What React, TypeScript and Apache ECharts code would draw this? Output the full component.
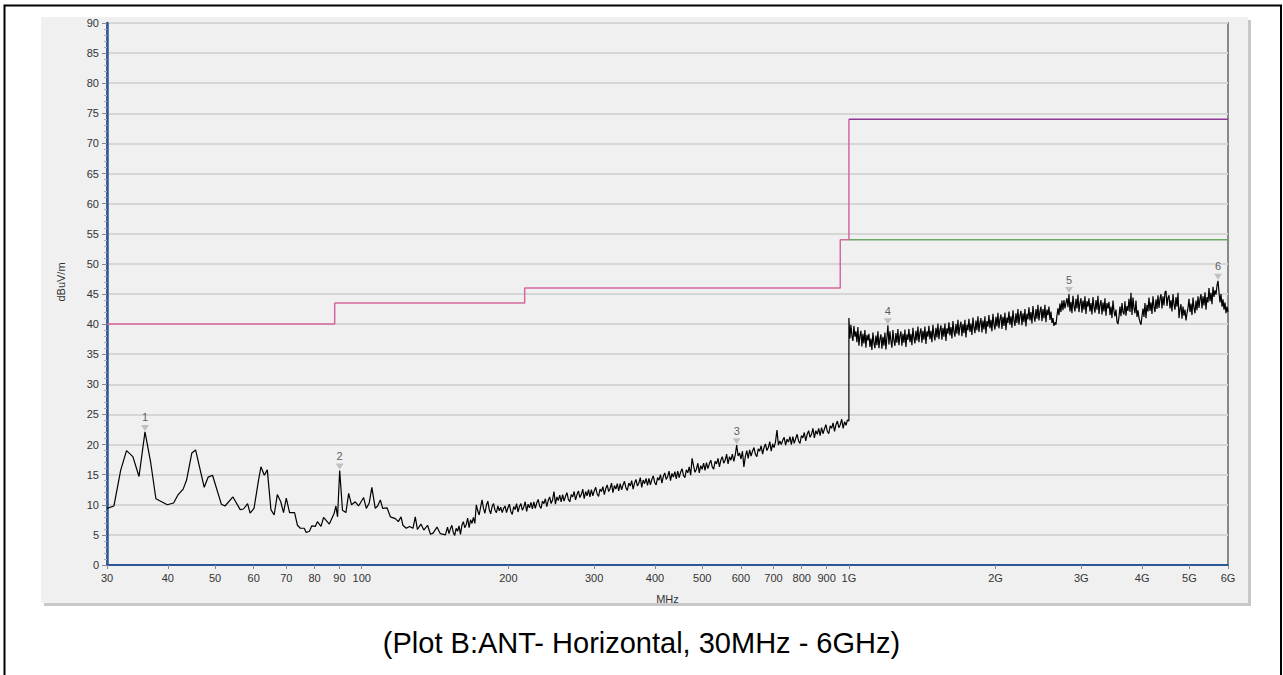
import React, { useEffect, useRef } from "react";
import * as echarts from "echarts";

// ---------- Data ----------
const X_TICKS = [30, 40, 50, 60, 70, 80, 90, 100, 200, 300, 400, 500, 600, 700, 800, 900, 1000, 2000, 3000, 4000, 5000, 6000];
const Y_MIN = 0;
const Y_MAX = 90;
const Y_STEP = 5;

// Limit lines (MHz, dBuV/m)
const LIMIT_QP_FREQ = [30, 88, 88, 216, 216, 960, 960, 1000, 1000];
const LIMIT_QP_LEVEL = [40, 40, 43.5, 43.5, 46, 46, 54, 54, 74];
const LIMIT_PK_FREQ = [1000, 6000];
const LIMIT_PK_LEVEL = [74, 74];
const LIMIT_AV_FREQ = [1000, 6000];
const LIMIT_AV_LEVEL = [54, 54];

// Trace, 30 - 150 MHz (read point by point)
const TRACE_LOW_FREQ = [
  30, 31.0, 32.0, 32.9, 33.9, 34.9, 35.9, 36.9, 37.8, 39.9,
  41.1, 42.0, 43.0, 43.7, 44.8, 45.6, 47.5, 48.4, 49.4, 51.5,
  52.4, 54.4, 56.3, 57.2, 58.3, 59.0, 60.1, 61.4, 62.1, 63.1,
  64.0, 65.1, 66.1, 67.1, 68.2, 69.1, 70.0, 71.1, 72.8, 73.8,
  74.8, 76.2, 76.9, 78.1, 79.0, 80.3, 81.1, 82.5, 83.5, 85.8,
  87.8, 88.5, 89.2, 90.1, 91.3, 92.8, 94.0, 95.3, 97.0, 98.5,
  100.9, 102.2, 103.6, 104.9, 106.6, 107.8, 109.2, 110.4, 112.7, 114.5,
  117.2, 118.9, 120.4, 121.5, 123.4, 125.4, 127.4, 128.8, 130.1, 132.3,
  134.1, 136.5, 138.4, 140.1, 142.7, 145.0, 148.5,
];
const TRACE_LOW_LEVEL = [
  9.4, 9.8, 15.7, 19.0, 18.0, 14.7, 22.1, 16.9, 11.0, 10.0,
  10.3, 11.7, 12.6, 14.1, 18.6, 19.1, 12.9, 14.6, 14.9, 10.1,
  9.8, 11.3, 9.2, 9.3, 10.2, 8.6, 9.4, 14.1, 16.3, 14.9,
  15.8, 9.2, 8.3, 11.7, 10.5, 8.7, 11.1, 8.7, 8.7, 6.6,
  6.1, 6.1, 5.4, 5.6, 6.5, 6.4, 7.2, 6.4, 7.9, 6.8,
  8.6, 9.8, 8.0, 15.7, 9.1, 8.7, 11.9, 10.0, 10.5, 9.8,
  11.2, 9.4, 10.3, 12.9, 9.4, 9.8, 10.8, 9.4, 9.5, 8.0,
  7.7, 7.2, 8.0, 6.6, 6.1, 6.4, 6.1, 8.0, 5.9, 6.8,
  5.8, 6.6, 5.1, 5.3, 6.3, 5.2, 5.0,
];

// Trace, 150 - 1000 MHz sweep (log-spaced sweep points)
const SWEEP_MID_START = 150;
const SWEEP_MID_STOP = 1000;
const TRACE_MID_LEVEL = [
  6.3, 5.2, 6.0, 6.6, 5.4, 4.9, 6.1, 5.6, 6.5, 5.1,
  6.6, 7.2, 6.2, 6.7, 7.8, 6.2, 7.5, 6.9, 7.9, 6.9,
  10.0, 9.0, 8.3, 9.6, 10.8, 9.4, 8.6, 9.9, 10.6, 9.2,
  8.5, 9.7, 10.2, 9.1, 8.7, 9.8, 9.0, 9.6, 8.7, 9.4,
  9.8, 8.7, 9.5, 10.1, 8.9, 8.4, 9.7, 9.2, 10.2, 8.8,
  9.7, 10.2, 9.1, 9.6, 10.5, 8.9, 10.1, 9.5, 10.4, 9.3,
  10.5, 9.4, 10.3, 10.9, 9.8, 9.4, 10.6, 10.2, 11.0, 9.7,
  10.7, 11.3, 10.2, 10.8, 12.2, 10.1, 11.3, 10.7, 11.6, 10.5,
  11.7, 10.6, 11.4, 12.0, 10.9, 10.5, 11.7, 11.3, 12.2, 10.8,
  11.7, 12.3, 11.2, 11.7, 12.6, 11.0, 12.2, 11.5, 12.5, 11.3,
  12.5, 11.5, 12.3, 12.9, 11.8, 11.4, 12.6, 12.2, 13.0, 11.7,
  12.7, 13.3, 12.2, 12.7, 13.6, 12.0, 13.2, 12.6, 13.5, 12.3,
  13.5, 12.5, 13.3, 13.9, 12.8, 12.4, 13.6, 13.1, 14.0, 12.6,
  13.6, 14.2, 13.1, 13.6, 14.5, 12.9, 14.1, 13.5, 14.4, 13.2,
  14.4, 13.3, 14.2, 14.8, 13.7, 13.3, 14.5, 14.1, 15.0, 13.6,
  14.7, 15.3, 14.2, 14.7, 15.6, 14.0, 15.2, 14.6, 15.5, 14.3,
  15.6, 14.5, 15.4, 16.0, 14.9, 14.5, 15.8, 15.3, 16.3, 14.9,
  17.7, 16.5, 15.4, 15.9, 16.9, 15.3, 16.5, 15.9, 16.9, 15.7,
  17.0, 16.0, 16.8, 17.4, 16.3, 15.9, 17.2, 16.8, 17.7, 16.3,
  17.4, 18.0, 16.9, 17.4, 18.4, 16.8, 18.0, 17.4, 18.4, 17.2,
  18.3, 19.9, 18.1, 18.6, 17.6, 18.9, 16.3, 18.0, 19.0, 17.7,
  19.1, 18.1, 18.9, 19.5, 18.4, 18.0, 19.3, 18.9, 19.8, 18.4,
  19.5, 20.1, 19.0, 19.5, 20.5, 18.9, 20.1, 19.5, 20.5, 22.4,
  19.9, 20.6, 20.0, 20.7, 21.2, 19.9, 20.9, 20.4, 21.3, 20.0,
  21.3, 20.2, 21.0, 21.7, 20.6, 20.2, 21.5, 21.1, 22.0, 20.6,
  21.7, 22.3, 21.2, 21.7, 22.7, 21.1, 22.3, 21.7, 22.7, 21.5,
  22.8, 21.8, 22.6, 23.3, 22.2, 21.8, 23.1, 22.7, 23.6, 22.2,
  23.3, 23.9, 22.8, 23.3, 24.2, 22.7, 23.8, 23.2, 24.1, 23.9,
];

// Trace, 1 - 6 GHz sweep (log-spaced sweep points)
const SWEEP_HIGH_START = 1000;
const SWEEP_HIGH_STOP = 6000;
const TRACE_HIGH_LEVEL = [
  41.0, 37.6, 39.9, 38.1, 37.2, 39.7, 37.9, 38.8, 37.0, 39.5,
  36.4, 38.0, 38.9, 36.3, 38.4, 36.8, 39.0, 36.1, 38.2, 37.3,
  38.4, 36.2, 37.6, 35.7, 38.6, 36.9, 36.0, 38.1, 36.5, 38.8,
  36.0, 37.5, 38.3, 35.9, 37.9, 36.4, 38.6, 35.8, 37.8, 39.8,
  36.6, 38.8, 37.2, 36.1, 39.0, 37.3, 36.4, 38.5, 36.9, 39.2,
  36.5, 38.0, 38.8, 36.4, 38.4, 36.9, 39.1, 36.2, 38.3, 37.4,
  39.2, 37.0, 38.4, 36.5, 39.4, 37.7, 36.8, 38.9, 37.3, 39.6,
  37.0, 38.5, 39.3, 36.9, 38.9, 37.4, 39.6, 36.7, 38.8, 37.9,
  39.7, 37.5, 38.9, 37.0, 39.9, 38.2, 37.3, 39.4, 37.8, 40.1,
  37.5, 39.0, 39.8, 37.4, 39.4, 37.9, 40.1, 37.2, 39.3, 38.4,
  40.3, 38.1, 39.5, 37.6, 40.5, 38.8, 37.9, 40.0, 38.4, 40.7,
  38.1, 39.6, 40.4, 38.0, 40.0, 38.5, 40.7, 37.8, 39.9, 39.0,
  40.9, 38.7, 40.1, 38.2, 41.1, 39.4, 38.5, 40.6, 39.0, 41.3,
  38.7, 40.2, 41.0, 38.6, 40.6, 39.1, 41.3, 38.4, 40.5, 39.6,
  41.5, 39.3, 40.7, 38.8, 41.7, 40.0, 39.1, 41.2, 39.6, 41.9,
  39.3, 40.8, 41.6, 39.2, 41.2, 39.7, 41.9, 39.0, 41.1, 40.2,
  42.1, 39.9, 41.3, 39.4, 42.3, 40.6, 39.7, 41.8, 40.2, 42.5,
  39.9, 41.4, 42.2, 39.8, 41.8, 40.3, 42.5, 39.6, 41.7, 40.8,
  42.8, 40.6, 42.0, 40.1, 43.0, 41.3, 40.4, 42.5, 40.9, 43.2,
  40.6, 42.1, 42.9, 40.5, 42.5, 41.0, 43.2, 40.3, 42.4, 41.5,
  42.9, 40.7, 42.1, 40.2, 41.0, 39.7, 40.3, 39.9, 41.4, 42.6,
  41.5, 43.4, 42.0, 43.9, 42.3, 44.0, 42.6, 43.5, 44.3, 42.8,
  45.0, 42.1, 43.7, 41.8, 44.7, 43.0, 42.1, 44.2, 42.6, 44.9,
  42.0, 43.5, 44.3, 41.9, 43.9, 42.4, 44.6, 41.7, 43.8, 42.9,
  44.3, 42.1, 43.5, 41.6, 44.5, 42.8, 41.9, 44.0, 42.4, 44.7,
  41.7, 43.2, 44.0, 41.6, 43.6, 42.1, 44.3, 41.4, 43.5, 42.6,
  43.7, 41.5, 42.9, 41.0, 43.9, 42.2, 41.3, 42.4, 40.4, 40.0,
  41.2, 42.9, 41.3, 43.5, 42.0, 41.6, 43.8, 41.4, 43.0, 42.2,
  44.2, 42.0, 45.2, 41.5, 44.4, 42.7, 41.8, 43.9, 41.2, 42.3,
  41.0, 40.4, 39.9, 41.3, 42.6, 41.2, 43.5, 41.0, 43.2, 42.1,
  44.4, 42.2, 43.6, 41.7, 44.6, 42.9, 42.0, 44.1, 42.5, 44.8,
  42.7, 44.2, 45.0, 42.6, 44.6, 43.1, 45.3, 45.5, 43.0, 44.4,
  44.8, 42.6, 44.0, 42.1, 45.0, 43.3, 42.4, 44.5, 42.9, 45.2,
  41.0, 42.5, 43.3, 40.9, 42.9, 41.4, 42.4, 40.6, 41.8, 42.7,
  44.2, 42.0, 43.4, 41.5, 44.4, 42.7, 41.8, 43.9, 42.3, 44.6,
  42.7, 44.2, 45.0, 42.6, 44.6, 43.1, 45.3, 42.4, 44.5, 43.6,
  46.0, 43.8, 45.2, 43.3, 46.2, 44.5, 45.6, 44.9, 46.4, 47.2,
  45.3, 43.6, 45.0, 42.9, 44.1, 42.4, 43.6, 41.8, 42.9, 42.0,
];

// Markers
const MARKER_IDS = ["1", "2", "3", "4", "5", "6"];
const MARKER_FREQ = [35.9, 90.1, 588.4, 1202, 2830, 5723];
const MARKER_LEVEL = [22.1, 15.7, 19.9, 39.8, 45.0, 47.2];

const CAPTION = "(Plot B:ANT- Horizontal, 30MHz - 6GHz)";
const X_NAME = "MHz";
const Y_NAME = "dBuV/m";

// ---------- Helpers ----------
const lg = (f: number) => Math.log10(f);
const sweep = (start: number, stop: number, levels: number[]) =>
  levels.map((v, i) => [lg(start) + ((lg(stop) - lg(start)) * i) / (levels.length - 1), v]);
const pairs = (fs: number[], vs: number[]) => fs.map((f, i) => [lg(f), vs[i]]);

const FONT = "'Liberation Sans', Arial, sans-serif";

export default function App() {
  const ref = useRef<HTMLDivElement>(null);

  useEffect(() => {
    if (!ref.current) return;
    const chart = echarts.init(ref.current, undefined, { renderer: "svg" });

    const trace = [
      ...pairs(TRACE_LOW_FREQ, TRACE_LOW_LEVEL),
      ...sweep(SWEEP_MID_START, SWEEP_MID_STOP, TRACE_MID_LEVEL),
      ...sweep(SWEEP_HIGH_START, SWEEP_HIGH_STOP, TRACE_HIGH_LEVEL),
    ];
    const tickVals = X_TICKS.map(lg);

    chart.setOption({
      animation: false,
      backgroundColor: "#ffffff",
      textStyle: { fontFamily: FONT },
      title: {
        text: CAPTION,
        left: "center",
        top: 623,
        textStyle: { fontFamily: FONT, fontSize: 29, fontWeight: "normal", color: "#000" },
      },
      graphic: [
        {
          type: "rect",
          z: -10,
          silent: true,
          shape: { x: 4.5, y: 5.5, width: 1276.5, height: 720 },
          style: { fill: "#ffffff", stroke: "#000000", lineWidth: 2 },
        },
        {
          type: "rect",
          z: -9,
          silent: true,
          shape: { x: 44, y: 20, width: 1207, height: 586 },
          style: { fill: "#c8c8c8" },
        },
        {
          type: "rect",
          z: -8,
          silent: true,
          shape: { x: 41, y: 17, width: 1207, height: 586 },
          style: { fill: "#f0f0f0" },
        },
      ],
      grid: {
        left: 107,
        right: 55,
        top: 23,
        bottom: 110,
        show: true,
        backgroundColor: "transparent",
        borderColor: "#888888",
        borderWidth: 2,
      },
      xAxis: {
        type: "value",
        min: lg(30),
        max: lg(6000),
        name: X_NAME,
        nameLocation: "middle",
        nameGap: 28,
        nameTextStyle: { fontFamily: FONT, fontSize: 11, color: "#333" },
        axisLine: { show: true, lineStyle: { color: "#2b5797", width: 2 } },
        axisTick: { show: true, customValues: tickVals, length: 4, lineStyle: { color: "#888" } },
        axisLabel: {
          customValues: tickVals,
          margin: 7,
          fontSize: 11,
          color: "#333",
          fontFamily: FONT,
          hideOverlap: false,
          formatter: (v: number) => {
            const f = Math.round(Math.pow(10, v));
            return f >= 1000 ? f / 1000 + "G" : String(f);
          },
        },
        splitLine: { show: false },
      },
      yAxis: {
        type: "value",
        min: Y_MIN,
        max: Y_MAX,
        interval: Y_STEP,
        name: Y_NAME,
        nameLocation: "middle",
        nameGap: 41,
        nameTextStyle: { fontFamily: FONT, fontSize: 11, color: "#333", padding: [0, 0, 0, 24] },
        axisLine: { show: true, lineStyle: { color: "#2b5797", width: 2.5 } },
        axisTick: { show: true, length: 5, lineStyle: { color: "#888" } },
        minorTick: { show: true, splitNumber: 5, length: 3, lineStyle: { color: "#aaa" } },
        axisLabel: { margin: 8, fontSize: 11, color: "#333", fontFamily: FONT },
        splitLine: { show: true, lineStyle: { color: "#d6d6d6", width: 2 } },
      },
      series: [
        {
          type: "line",
          name: "QP limit",
          data: pairs(LIMIT_QP_FREQ, LIMIT_QP_LEVEL),
          symbol: "none",
          lineStyle: { color: "#d6689e", width: 1.5 },
          z: 2,
        },
        {
          type: "line",
          name: "PK limit",
          data: pairs(LIMIT_PK_FREQ, LIMIT_PK_LEVEL),
          symbol: "none",
          lineStyle: { color: "#8e3a98", width: 1.5 },
          z: 2,
        },
        {
          type: "line",
          name: "AV limit",
          data: pairs(LIMIT_AV_FREQ, LIMIT_AV_LEVEL),
          symbol: "none",
          lineStyle: { color: "#6aa866", width: 1.5 },
          z: 2,
        },
        {
          type: "line",
          name: "Trace",
          data: trace,
          symbol: "none",
          lineStyle: { color: "#000000", width: 1.2 },
          z: 3,
        },
        {
          type: "scatter",
          name: "Markers",
          data: pairs(MARKER_FREQ, MARKER_LEVEL),
          symbol: "triangle",
          symbolRotate: 180,
          symbolSize: [8, 6],
          symbolOffset: [0, -4],
          itemStyle: { color: "#b4b4b4" },
          label: {
            show: true,
            position: "top",
            distance: 2,
            fontSize: 11,
            color: "#333",
            fontFamily: FONT,
            formatter: (p: any) => MARKER_IDS[p.dataIndex],
          },
          z: 4,
        },
      ],
    });

    return () => chart.dispose();
  }, []);

  return (
    <div style={{ position: "absolute", left: 0, top: 0, width: 1283, height: 675 }}>
      <div ref={ref} style={{ width: 1283, height: 675 }} />
    </div>
  );
}
